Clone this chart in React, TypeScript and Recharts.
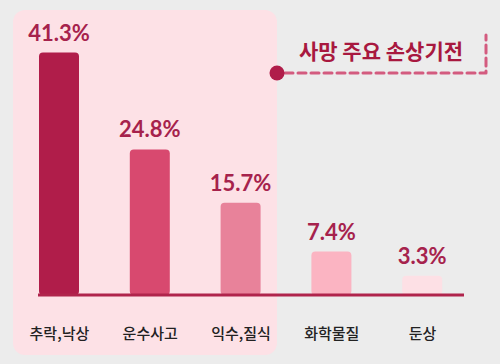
import { Bar, BarChart, Cell, LabelList, XAxis, YAxis } from "recharts";

const categories = ["추락,낙상", "운수사고", "익수,질식", "화학물질", "둔상"];
const shares = [41.3, 24.8, 15.7, 7.4, 3.3];
const yDomain: [number, number] = [0, 46];
const title = "사망 주요 손상기전";

const barColors = ["#b01d4a", "#d8496f", "#e8829a", "#fbb4c2", "#fde0e5"];
const labelColor = "#a6224c";

const chartData = categories.map((name, i) => ({ name, share: shares[i] }));

function TitleTag() {
  return (
    <svg
      width={500}
      height={364}
      style={{ position: "absolute", left: 0, top: 0, pointerEvents: "none" }}
    >
      <text
        x={381}
        y={50}
        textAnchor="middle"
        dominantBaseline="central"
        fontFamily="'Noto Sans CJK KR', 'Noto Sans', sans-serif"
        fontWeight={700}
        fontSize={21}
        fill="#a8183f"
      >
        {title}
      </text>
      <path
        d="M 285 73 L 486 73 L 486 35"
        fill="none"
        stroke="#d35b7f"
        strokeWidth={3}
        strokeDasharray="8 5"
        strokeLinecap="round"
        strokeLinejoin="round"
      />
      <circle cx={277} cy={73} r={7.5} fill="#b01d4a" />
    </svg>
  );
}

export default function App() {
  return (
    <div
      style={{
        position: "absolute",
        left: 0,
        top: 0,
        width: 500,
        height: 364,
        background: "#ececec",
        overflow: "hidden",
      }}
    >
      <div
        style={{
          position: "absolute",
          left: 13,
          top: 10,
          width: 264,
          height: 345,
          borderRadius: 12,
          background: "#fde1e6",
        }}
      />
      <div style={{ position: "absolute", left: 0, top: 0 }}>
        <BarChart
          width={500}
          height={364}
          data={chartData}
          margin={{ top: 25, right: 36, left: 38, bottom: 29 }}
        >
          <XAxis
            dataKey="name"
            height={40}
            padding={{ left: -24, right: -4 }}
            tickLine={false}
            tickMargin={27}
            axisLine={{ stroke: "#b0244c", strokeWidth: 3 }}
            tick={{
              fill: "#222",
              fontSize: 15,
              fontWeight: 500,
              fontFamily: "'Noto Sans CJK KR', sans-serif",
            }}
          />
          <YAxis hide domain={yDomain} />
          <Bar dataKey="share" barSize={40} radius={[4, 4, 4, 4]} isAnimationActive={false}>
            {chartData.map((d, i) => (
              <Cell key={d.name} fill={barColors[i]} />
            ))}
            <LabelList
              dataKey="share"
              position="top"
              offset={12}
              formatter={(v: number) => `${v}%`}
              fill={labelColor}
              fontSize={22}
              fontWeight={700}
              fontFamily="Lato, sans-serif"
            />
          </Bar>
        </BarChart>
      </div>
      <TitleTag />
    </div>
  );
}
